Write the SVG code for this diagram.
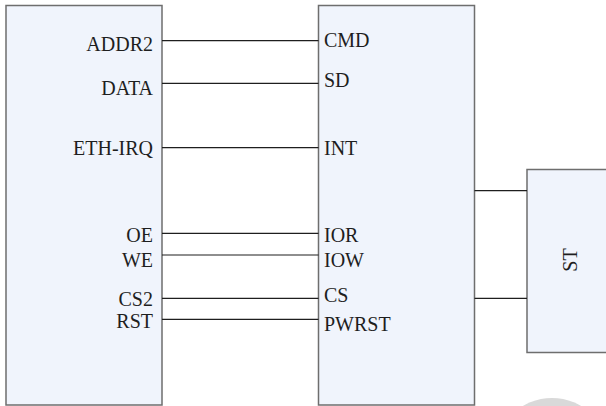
<svg xmlns="http://www.w3.org/2000/svg" width="606" height="406" viewBox="0 0 606 406">
  <style>
    .box { fill: #f0f4fc; stroke: #6e6e6e; stroke-width: 1.5; }
    .wire { stroke: #1e1e1e; stroke-width: 1.2; fill: none; }
    .lbl { font-family: "Liberation Serif", "Times New Roman", serif; font-size: 20px; fill: #1e1e1e; }
    .end { text-anchor: end; }
  </style>
  <rect width="606" height="406" fill="#ffffff"/>
  <!-- faint seal in the lower right corner -->
  <circle cx="552" cy="455" r="57" fill="#d9d9d9"/>

  <g id="mcu">
    <rect class="box" x="6" y="5.5" width="156" height="399.5"/>
    <text class="lbl end" x="153" y="51">ADDR2</text>
    <text class="lbl end" x="153" y="94.5">DATA</text>
    <text class="lbl end" x="153" y="155">ETH-IRQ</text>
    <text class="lbl end" x="153" y="241.5">OE</text>
    <text class="lbl end" x="153" y="266.5">WE</text>
    <text class="lbl end" x="153" y="305.5">CS2</text>
    <text class="lbl end" x="153" y="327.5">RST</text>
  </g>

  <g id="eth">
    <rect class="box" x="318.5" y="5.5" width="156" height="399.5"/>
    <text class="lbl" x="324" y="46.5">CMD</text>
    <text class="lbl" x="324" y="86.5">SD</text>
    <text class="lbl" x="324" y="155">INT</text>
    <text class="lbl" x="324" y="241.5">IOR</text>
    <text class="lbl" x="324" y="266.5">IOW</text>
    <text class="lbl" x="324" y="301.5">CS</text>
    <text class="lbl" x="324" y="330.5">PWRST</text>
  </g>

  <g id="st">
    <rect class="box" x="527" y="169.5" width="90" height="183"/>
    <text class="lbl" text-anchor="middle" transform="translate(577 260) rotate(-90)">ST</text>
  </g>

  <g id="connectors">
    <line class="wire" x1="162" y1="40.7" x2="318.5" y2="40.7"/>
    <line class="wire" x1="162" y1="83.3" x2="318.5" y2="83.3"/>
    <line class="wire" x1="162" y1="147.7" x2="318.5" y2="147.7"/>
    <line class="wire" x1="162" y1="233.3" x2="318.5" y2="233.3"/>
    <line class="wire" x1="162" y1="255" x2="318.5" y2="255"/>
    <line class="wire" x1="162" y1="298.3" x2="318.5" y2="298.3"/>
    <line class="wire" x1="162" y1="319.3" x2="318.5" y2="319.3"/>
    <line class="wire" x1="474.5" y1="190.7" x2="527" y2="190.7"/>
    <line class="wire" x1="474.5" y1="298.3" x2="527" y2="298.3"/>
  </g>
</svg>
